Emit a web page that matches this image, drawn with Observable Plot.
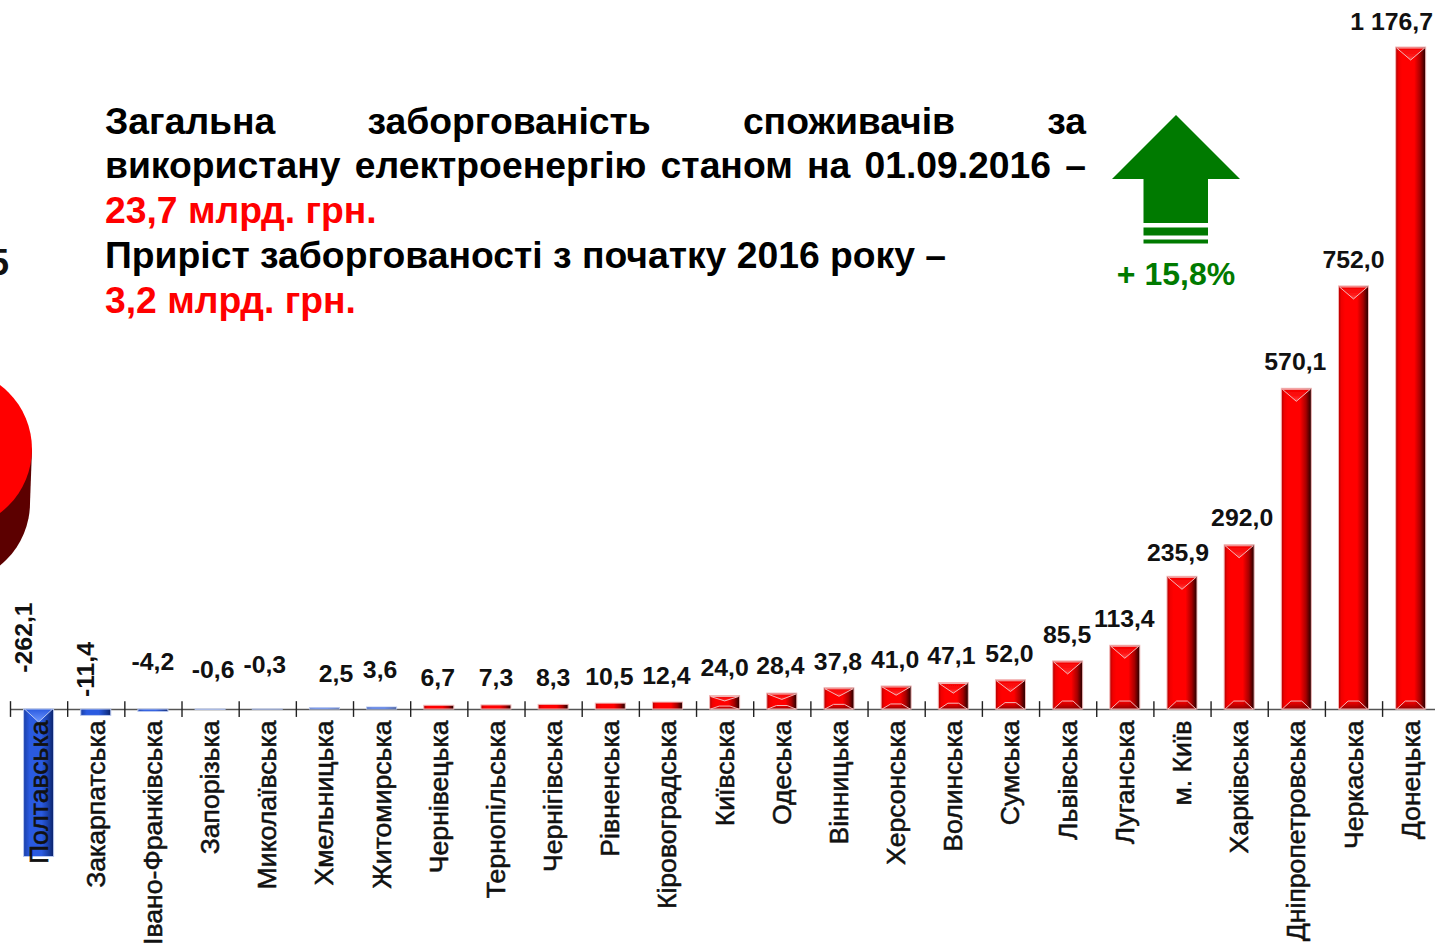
<!DOCTYPE html>
<html lang="uk"><head><meta charset="utf-8">
<script src="https://cdn.jsdelivr.net/npm/d3@7"></script>
<script src="https://cdn.jsdelivr.net/npm/@observablehq/plot@0.6"></script>
<style>
html,body{margin:0;padding:0;background:#fff;overflow:hidden;width:1435px;height:944px}
#chart{position:relative;width:1435px;height:944px;overflow:hidden;font-family:"Liberation Sans",Arial,sans-serif}
#chart svg{display:block;position:absolute;left:0;top:0;max-width:none}
#note{position:absolute;left:105px;top:98.5px;width:981px;font-weight:bold;font-size:37.3px;line-height:44.8px;color:#000;white-space:nowrap}
#note .j{text-align:justify;text-align-last:justify;white-space:normal}
#note .r{color:#ff0000}
</style></head><body><div id="chart"><div id="note"></div></div>
<script>
const regions = ["Полтавська","Закарпатська","Івано-Франківська","Запорізька","Миколаївська","Хмельницька","Житомирська","Чернівецька","Тернопільська","Чернігівська","Рівненська","Кіровоградська","Київська","Одеська","Вінницька","Херсонська","Волинська","Сумська","Львівська","Луганська","м. Київ","Харківська","Дніпропетровська","Черкаська","Донецька"];
const debtChange = [-262.1,-11.4,-4.2,-0.6,-0.3,2.5,3.6,6.7,7.3,8.3,10.5,12.4,24.0,28.4,37.8,41.0,47.1,52.0,85.5,113.4,235.9,292.0,570.1,752.0,1176.7];
const valueLabels = ["-262,1","-11,4","-4,2","-0,6","-0,3","2,5","3,6","6,7","7,3","8,3","10,5","12,4","24,0","28,4","37,8","41,0","47,1","52,0","85,5","113,4","235,9","292,0","570,1","752,0","1 176,7"];
const blueBarCount = 7;
// manual label placement of the original slide
const labelDx = [-15,-10,-0.5,2.5,-3,11,-2,-1.5,-0.5,-0.5,-1.5,-1.5,-0.5,-2,-1.5,-1.5,-2.5,-1.5,-1,-1,-4.5,2.5,-1.5,-0.5,-19.5];
const labelDy = [-72,-40,-47.5,-39.5,-44.7,-34,-37.5,-27.7,-27.6,-27,-26.8,-26.7,-28,-27.7,-26.4,-26.7,-27,-26.4,-26.6,-26.7,-24,-27.4,-26.7,-26.7,-25.7];
const noteLines = [
  ["Загальна заборгованість споживачів за","j"],
  ["використану електроенергію станом на 01.09.2016 –","j"],
  ["23,7 млрд. грн.","r"],
  ["Приріст заборгованості з початку 2016 року –",""],
  ["3,2 млрд. грн.","r"]
];
const growthLabel = "+ 15,8%";
const pieLabelFragment = "5";

const rows = regions.map((region,i)=>({region,value:debtChange[i],label:valueLabels[i],i}));
const STEP = 57.17, FONT = "Liberation Sans, Arial, sans-serif";

d3.select("#note").selectAll("div").data(noteLines).join("div")
  .attr("class",d=>d[1]).text(d=>d[0]);

const defs = () => d3.create("svg:defs").html(`
  <linearGradient id="gRed" x1="0" x2="1" y1="0" y2="0">
    <stop offset="0" stop-color="#b00000"/><stop offset=".1" stop-color="#f00000"/><stop offset=".22" stop-color="#ff0000"/>
    <stop offset=".62" stop-color="#ff0000"/><stop offset=".82" stop-color="#a80000"/><stop offset="1" stop-color="#200000"/>
  </linearGradient>
  <linearGradient id="gBlue" x1="0" x2="1" y1="0" y2="0">
    <stop offset="0" stop-color="#1a3fa8"/><stop offset=".2" stop-color="#2a5ae0"/><stop offset=".6" stop-color="#2a5ae0"/>
    <stop offset=".85" stop-color="#163a9c"/><stop offset="1" stop-color="#0a2068"/>
  </linearGradient>
  <linearGradient id="gTip" x1="0" x2="0" y1="0" y2="1">
    <stop offset="0" stop-color="#f40000"/><stop offset=".6" stop-color="#ff1414"/><stop offset="1" stop-color="#ff4a4a"/>
  </linearGradient>
  <linearGradient id="gTipBlue" x1="0" x2="0" y1="0" y2="1">
    <stop offset="0" stop-color="#2a5ae0"/><stop offset="1" stop-color="#6f98ff"/>
  </linearGradient>
  <linearGradient id="gFoot" x1="0" x2="0" y1="1" y2="0">
    <stop offset="0" stop-color="#8a0000"/><stop offset="1" stop-color="#c00000" stop-opacity=".2"/>
  </linearGradient>
  <filter id="soft" x="-10%" y="-30%" width="120%" height="160%"><feGaussianBlur stdDeviation="0.7"/></filter>`).node();

// soft bevels on the ends of each bar, derived from the rendered bar
function bevel(isBlue){
  return function(index, scales, values, dims, ctx, next){
    const g = next(index, scales, values, dims, ctx);
    Array.from(g.querySelectorAll("rect")).forEach(r=>{
      const x=+r.getAttribute("x"),y=+r.getAttribute("y"),w=+r.getAttribute("width"),h=+r.getAttribute("height");
      if(h<8) return;
      const d=Math.min(13,h*.4), sel=d3.select(g);
      if(isBlue){
        sel.append("polygon").attr("points",`${x+1},${y} ${x+w-1},${y} ${x+w/2},${y+d}`).attr("fill","url(#gTipBlue)");
      } else {
        sel.append("polygon").attr("points",`${x+1},${y+1} ${x+w-1},${y+1} ${x+w/2},${y+d}`).attr("fill","url(#gTip)").attr("filter","url(#soft)");
        if(h>12){
          const f=Math.min(8,h*.22);
          sel.append("polygon").attr("points",`${x+1},${y+h} ${x+w-1},${y+h} ${x+w*.68},${y+h-f} ${x+w*.32},${y+h-f}`).attr("fill","url(#gFoot)").attr("filter","url(#soft)");
        }
      }
    });
    return g;
  };
}

const pie = () => {
  const g = d3.create("svg:g");
  g.append("circle").attr("cx",-50).attr("cy",503).attr("r",80).attr("fill","#5c0000");
  g.append("polygon").attr("points","32,449 30,503 -50,503 -48,449").attr("fill","#5c0000");
  g.append("circle").attr("cx",-48).attr("cy",449).attr("r",80).attr("fill","#ff0000");
  g.append("text").attr("x",9).attr("y",275).attr("text-anchor","end").attr("font-family",FONT)
    .attr("font-weight","bold").attr("font-size",36).attr("fill","#111").text(pieLabelFragment);
  return g.node();
};

const growthArrow = () => {
  const g = d3.create("svg:g").attr("fill","#007a00");
  g.append("polygon").attr("points","1176,115 1240,179 1208,179 1208,223 1143.5,223 1143.5,179 1112,179");
  g.append("rect").attr("x",1143.5).attr("y",227.5).attr("width",64.5).attr("height",8);
  g.append("rect").attr("x",1143.5).attr("y",239.5).attr("width",64.5).attr("height",4);
  g.append("text").attr("x",1176).attr("y",285).attr("text-anchor","middle").attr("font-family",FONT)
    .attr("font-weight","bold").attr("font-size",32).text(growthLabel);
  return g.node();
};

const chart = Plot.plot({
  width:1435, height:944, margin:0,
  style:{background:"transparent",fontFamily:FONT},
  x:{type:"band",domain:regions,range:[10,10+25*STEP],paddingInner:.475,paddingOuter:.2375,round:false,axis:null},
  y:{domain:[-262.1,1176.7],range:[856.5,47],axis:null},
  marks:[
    defs,
    pie,
    growthArrow,
    Plot.ruleY([0],{insetLeft:10,stroke:"#555",strokeWidth:1.5}),
    Plot.ruleX(regions,{x:d=>d,y1:-14,y2:14,dx:-STEP/2,stroke:"#222",strokeWidth:1.4}),
    Plot.barY(rows.filter(d=>d.i>=blueBarCount),{x:"region",y:"value",fill:"url(#gRed)",stroke:"#f2b8b8",strokeWidth:1,render:bevel(false)}),
    Plot.barY(rows.filter(d=>d.i<blueBarCount),{x:"region",y:"value",fill:"url(#gBlue)",stroke:"#b8c8f0",strokeWidth:1,render:bevel(true)}),
    Plot.text(rows,{x:"region",y:0,text:"region",rotate:-90,textAnchor:"end",dy:11,dx:0,fontSize:26.6,fill:"#111",stroke:"#111",strokeWidth:.55,fontFamily:FONT}),
    ...rows.map(d=>Plot.text([d],{x:"region",y:Math.max(d.value,0),text:"label",
      rotate:d.i<2?-90:0,dx:labelDx[d.i],dy:labelDy[d.i],fontSize:24.8,fontWeight:"bold",fill:"#111",fontFamily:FONT}))
  ]
});
document.getElementById("chart").prepend(chart);
</script></body></html>
